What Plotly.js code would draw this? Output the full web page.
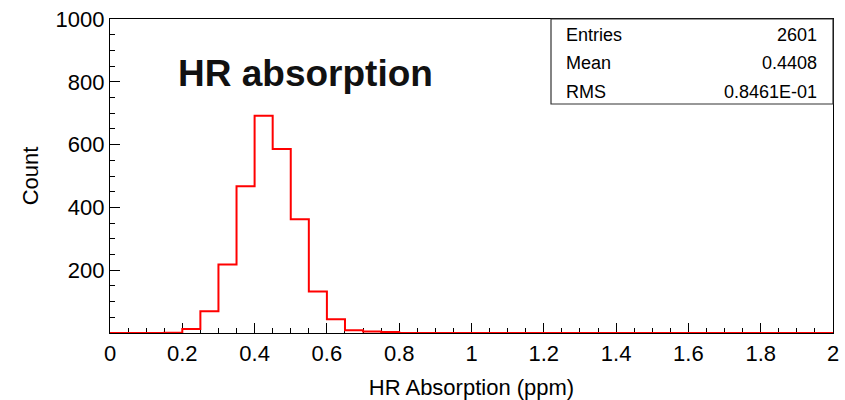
<!DOCTYPE html>
<html>
<head>
<meta charset="utf-8">
<script src="https://cdn.plot.ly/plotly-3.0.1.min.js"></script>
<style>html,body{margin:0;padding:0;background:#fff;}#chart{width:845px;height:400px;}</style>
</head>
<body>
<div id="chart"></div>
<script>
// ---- data ----
var binEdges = [0, 0.05, 0.1, 0.15, 0.2, 0.25, 0.3, 0.35, 0.4, 0.45, 0.5, 0.55, 0.6, 0.65, 0.7, 0.75, 0.8, 0.85, 0.9, 0.95,
                1, 1.05, 1.1, 1.15, 1.2, 1.25, 1.3, 1.35, 1.4, 1.45, 1.5, 1.55, 1.6, 1.65, 1.7, 1.75, 1.8, 1.85, 1.9, 1.95, 2];
var counts = [0, 0, 0, 1, 13, 69, 218, 467, 692, 586, 362, 132, 44, 9, 5, 3, 0, 0, 0, 0,
              0, 0, 0, 0, 0, 0, 0, 0, 0, 0, 0, 0, 0, 0, 0, 0, 0, 0, 0, 0];
var xTickVals = [0, 0.2, 0.4, 0.6, 0.8, 1, 1.2, 1.4, 1.6, 1.8, 2];
var xTickText = ["0", "0.2", "0.4", "0.6", "0.8", "1", "1.2", "1.4", "1.6", "1.8", "2"];
var yTickVals = [200, 400, 600, 800, 1000];
var yTickText = ["200", "400", "600", "800", "1000"];
var statLabels = ["Entries", "Mean", "RMS"];
var statValues = ["2601", "0.4408", "0.8461E-01"];
var histTitle = "HR absorption";
var xTitle = "HR Absorption (ppm)";
var yTitle = "Count";

// ---- layout helpers ----
var W = 845, H = 400;
var M = {l: 110, r: 12, t: 19, b: 67};
function px(x) { return (x - M.l) / (W - M.l - M.r); }
function py(y) { return (H - M.b - y) / (H - M.t - M.b); }

var FONT = "Liberation Sans, Arial, Helvetica, sans-serif";

var yStep = counts.concat([counts[counts.length - 1]]);
var trace = {
  type: "scatter", mode: "lines",
  x: binEdges, y: yStep,
  line: {shape: "hv", color: "#ff0000", width: 2},
  hoverinfo: "skip", showlegend: false
};

var annotations = [{
  xref: "paper", yref: "paper", x: px(176), y: py(74), xanchor: "left", yanchor: "middle",
  text: "<b>" + histTitle + "</b>", showarrow: false,
  font: {family: FONT, size: 37, color: "#111111"}
}];
var rowY = [35, 63, 92];
for (var i = 0; i < statLabels.length; i++) {
  annotations.push({xref: "paper", yref: "paper", x: px(564), y: py(rowY[i]), xanchor: "left", yanchor: "middle",
    text: statLabels[i], showarrow: false, font: {family: FONT, size: 18, color: "#000"}});
  annotations.push({xref: "paper", yref: "paper", x: px(819), y: py(rowY[i]), xanchor: "right", yanchor: "middle",
    text: statValues[i], showarrow: false, font: {family: FONT, size: 18, color: "#000"}});
}

var layout = {
  width: W, height: H,
  margin: M,
  paper_bgcolor: "#fff", plot_bgcolor: "#fff",
  font: {family: FONT, color: "#000"},
  xaxis: {
    range: [0, 2], showgrid: false, zeroline: false,
    showline: true, linecolor: "#000", linewidth: 1.2, mirror: true,
    tickmode: "array", tickvals: xTickVals, ticktext: xTickText,
    ticks: "inside", ticklen: 10, tickwidth: 1, tickcolor: "#000",
    tickfont: {family: FONT, size: 22, color: "#000"},
    ticklabelstandoff: 0,
    minor: {dtick: 0.05, tick0: 0, ticks: "inside", ticklen: 5, tickwidth: 1, tickcolor: "#000", showgrid: false},
    layer: "below traces",
    title: {text: xTitle, font: {family: FONT, size: 22, color: "#000"}, standoff: 16}
  },
  yaxis: {
    range: [0, 1000], showgrid: false, zeroline: false,
    showline: true, linecolor: "#000", linewidth: 1.2, mirror: true,
    tickmode: "array", tickvals: yTickVals, ticktext: yTickText,
    ticks: "inside", ticklen: 10, tickwidth: 1, tickcolor: "#000",
    tickfont: {family: FONT, size: 22, color: "#000"},
    ticklabelstandoff: 0,
    minor: {dtick: 50, tick0: 0, ticks: "inside", ticklen: 5, tickwidth: 1, tickcolor: "#000", showgrid: false},
    title: {text: yTitle, font: {family: FONT, size: 22, color: "#000"}, standoff: 10}
  },
  shapes: [{
    type: "rect", xref: "paper", yref: "paper",
    x0: px(551), x1: 1, y0: py(104), y1: 1,
    line: {color: "#333", width: 1.2}, fillcolor: "rgba(255,255,255,1)", layer: "above"
  }],
  annotations: annotations
};

Plotly.newPlot("chart", [trace], layout, {staticPlot: true, displayModeBar: false});
</script>
</body>
</html>
